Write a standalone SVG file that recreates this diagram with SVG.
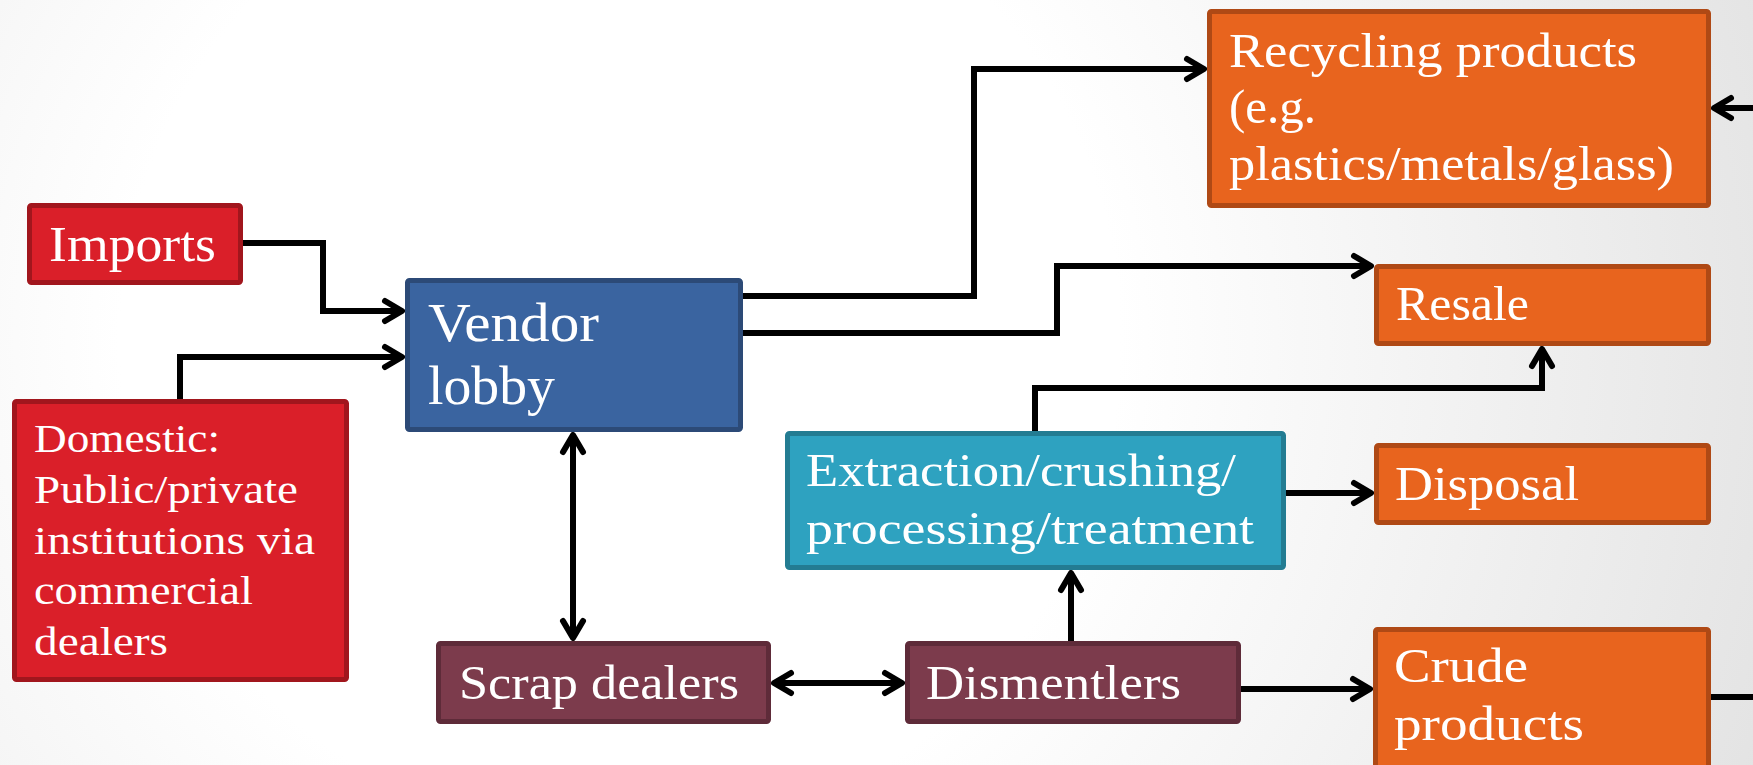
<svg xmlns="http://www.w3.org/2000/svg" width="1753" height="765" viewBox="0 0 1753 765">
<defs>
<radialGradient id="bg" gradientUnits="userSpaceOnUse" cx="620" cy="340" r="1250">
<stop offset="0" stop-color="#ffffff"/>
<stop offset="0.4" stop-color="#ffffff"/>
<stop offset="1" stop-color="#e2e2e2"/>
</radialGradient>
<marker id="arr" markerUnits="userSpaceOnUse" markerWidth="30" markerHeight="30" refX="0" refY="0" orient="auto-start-reverse" overflow="visible">
<path d="M -17 -10 L 0 0 L -17 10" fill="none" stroke="#000" stroke-width="6" stroke-linecap="round" stroke-linejoin="round"/>
</marker>
<style>
.red{fill:#da1f29;stroke:#a1161d;stroke-width:5}
.blue{fill:#3a64a0;stroke:#2c4a77;stroke-width:5}
.teal{fill:#2ea2c0;stroke:#237c92;stroke-width:5}
.maroon{fill:#7c3b4c;stroke:#5e2b39;stroke-width:5}
.orange{fill:#e8641e;stroke:#af4915;stroke-width:5}
.t{fill:#ffffff;font-family:"Liberation Serif","Times New Roman",serif}
.c{fill:none;stroke:#000;stroke-width:6;stroke-linejoin:miter}
</style>
</defs>
<rect x="0" y="0" width="1753" height="765" fill="url(#bg)"/>
<g id="connectors">
<path class="c" d="M 243 243 H 323 V 311 H 402" marker-end="url(#arr)"/>
<path class="c" d="M 180 399 V 357 H 402" marker-end="url(#arr)"/>
<path class="c" d="M 743 296 H 974 V 69 H 1204" marker-end="url(#arr)"/>
<path class="c" d="M 743 333 H 1057 V 266 H 1371" marker-end="url(#arr)"/>
<path class="c" d="M 1035 431 V 388 H 1542 V 349" marker-end="url(#arr)"/>
<path class="c" d="M 1286 493 H 1371" marker-end="url(#arr)"/>
<path class="c" d="M 573 435 V 638" marker-start="url(#arr)" marker-end="url(#arr)"/>
<path class="c" d="M 774 683 H 902" marker-start="url(#arr)" marker-end="url(#arr)"/>
<path class="c" d="M 1071 641 V 573" marker-end="url(#arr)"/>
<path class="c" d="M 1241 689 H 1370" marker-end="url(#arr)"/>
<path class="c" d="M 1711 697 H 1753"/>
<path class="c" d="M 1753 108 H 1714" marker-end="url(#arr)"/>
</g>
<g id="imports">
<rect class="red" x="29.5" y="205.5" width="211" height="77" rx="2"/>
<text class="t" font-size="50"><tspan x="49" y="261" textLength="167" lengthAdjust="spacingAndGlyphs">Imports</tspan></text>
</g>
<g id="domestic">
<rect class="red" x="14.5" y="401.5" width="332" height="278" rx="2"/>
<text class="t" font-size="41">
<tspan x="34" y="452" textLength="186" lengthAdjust="spacingAndGlyphs">Domestic:</tspan>
<tspan x="34" y="503" textLength="264" lengthAdjust="spacingAndGlyphs">Public/private</tspan>
<tspan x="34" y="554" textLength="281" lengthAdjust="spacingAndGlyphs">institutions via</tspan>
<tspan x="34" y="604" textLength="219" lengthAdjust="spacingAndGlyphs">commercial</tspan>
<tspan x="34" y="655" textLength="134" lengthAdjust="spacingAndGlyphs">dealers</tspan>
</text>
</g>
<g id="vendor-lobby">
<rect class="blue" x="407.5" y="280.5" width="333" height="149" rx="2"/>
<text class="t" font-size="54">
<tspan x="428" y="341" textLength="171" lengthAdjust="spacingAndGlyphs">Vendor</tspan>
<tspan x="428" y="404" textLength="127" lengthAdjust="spacingAndGlyphs">lobby</tspan>
</text>
</g>
<g id="recycling-products">
<rect class="orange" x="1209.5" y="11.5" width="499" height="194" rx="2"/>
<text class="t" font-size="49">
<tspan x="1229" y="67" textLength="408" lengthAdjust="spacingAndGlyphs">Recycling products</tspan>
<tspan x="1229" y="123" textLength="87" lengthAdjust="spacingAndGlyphs">(e.g.</tspan>
<tspan x="1229" y="180" textLength="445" lengthAdjust="spacingAndGlyphs">plastics/metals/glass)</tspan>
</text>
</g>
<g id="resale">
<rect class="orange" x="1376.5" y="266.5" width="332" height="77" rx="2"/>
<text class="t" font-size="49"><tspan x="1396" y="320" textLength="133" lengthAdjust="spacingAndGlyphs">Resale</tspan></text>
</g>
<g id="extraction">
<rect class="teal" x="787.5" y="433.5" width="496" height="134" rx="2"/>
<text class="t" font-size="46">
<tspan x="806" y="486" textLength="430" lengthAdjust="spacingAndGlyphs">Extraction/crushing/</tspan>
<tspan x="806" y="544" textLength="448" lengthAdjust="spacingAndGlyphs">processing/treatment</tspan>
</text>
</g>
<g id="disposal">
<rect class="orange" x="1376.5" y="445.5" width="332" height="77" rx="2"/>
<text class="t" font-size="49"><tspan x="1395" y="500" textLength="184" lengthAdjust="spacingAndGlyphs">Disposal</tspan></text>
</g>
<g id="scrap-dealers">
<rect class="maroon" x="438.5" y="643.5" width="330" height="78" rx="2"/>
<text class="t" font-size="49"><tspan x="459" y="699" textLength="280" lengthAdjust="spacingAndGlyphs">Scrap dealers</tspan></text>
</g>
<g id="dismentlers">
<rect class="maroon" x="907.5" y="643.5" width="331" height="78" rx="2"/>
<text class="t" font-size="49"><tspan x="926" y="699" textLength="255" lengthAdjust="spacingAndGlyphs">Dismentlers</tspan></text>
</g>
<g id="crude-products">
<rect class="orange" x="1375.5" y="629.5" width="333" height="170" rx="2"/>
<text class="t" font-size="48">
<tspan x="1394" y="682" textLength="134" lengthAdjust="spacingAndGlyphs">Crude</tspan>
<tspan x="1394" y="740" textLength="190" lengthAdjust="spacingAndGlyphs">products</tspan>
</text>
</g>
</svg>
